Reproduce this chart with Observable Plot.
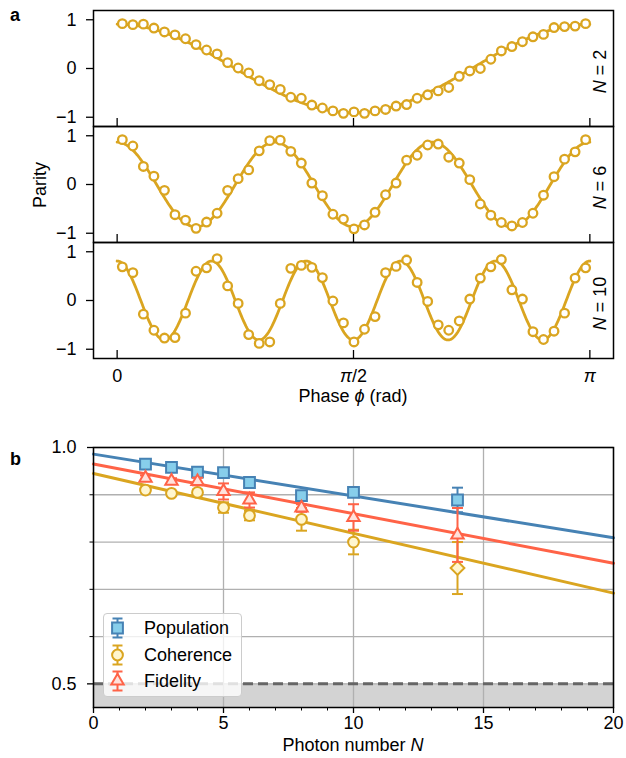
<!DOCTYPE html>
<html><head><meta charset="utf-8">
<script src="https://cdn.jsdelivr.net/npm/d3@7"></script>
<script src="https://cdn.jsdelivr.net/npm/@observablehq/plot@0.6"></script>
<style>
body{margin:0;background:#fff;}
#fig{position:relative;width:626px;height:758px;overflow:hidden;font-family:"Liberation Sans",Arial,Helvetica,sans-serif;font-size:18px;color:#000;}
#fig svg{overflow:visible;}
</style></head><body><div id="fig"></div>
<script>
// ---------------- Panel a data ----------------
const photonNumbersA = [2, 6, 10];
const fitAmplitude = [0.91, 0.87, 0.81];
const phaseStartFrac = 0.011, phaseEndFrac = 0.991, phaseCount = 45;
const parityN2 = [0.92,0.90,0.91,0.83,0.75,0.69,0.61,0.49,0.38,0.30,
  0.12,0.01,-0.09,-0.25,-0.33,-0.43,-0.59,-0.61,-0.75,-0.81,
  -0.87,-0.92,-0.89,-0.92,-0.87,-0.84,-0.77,-0.74,-0.61,-0.54,
  -0.46,-0.39,-0.16,-0.05,0.00,0.19,0.36,0.45,0.55,0.65,
  0.70,0.84,0.86,0.87,0.92];
const parityN6 = [0.92,0.79,0.37,0.17,-0.12,-0.62,-0.73,-0.90,-0.77,-0.59,
  -0.12,0.12,0.30,0.69,0.90,0.91,0.68,0.44,0.03,-0.23,
  -0.61,-0.71,-0.91,-0.83,-0.57,-0.21,0.03,0.50,0.60,0.81,
  0.83,0.56,0.44,0.10,-0.40,-0.63,-0.78,-0.85,-0.78,-0.59,
  -0.22,0.16,0.52,0.67,0.92];
const parityN10 = [0.69,0.57,-0.28,-0.61,-0.77,-0.76,-0.26,0.60,0.67,0.86,
  0.30,-0.06,-0.70,-0.88,-0.85,-0.06,0.66,0.72,0.68,0.47,
  -0.01,-0.46,-0.85,-0.59,-0.33,0.57,0.70,0.83,0.37,-0.02,
  -0.50,-0.61,-0.42,0.03,0.46,0.69,0.84,0.22,0.03,-0.64,
  -0.80,-0.63,-0.26,0.46,0.67];
const phaseTicks = [0, Math.PI/2, Math.PI];
const phaseTickLabels = ["0", "π/2", "π"];
const parityTicks = [-1, 0, 1];

// ---------------- Panel b data ----------------
const photonN = [2, 3, 4, 5, 6, 8, 10, 14];
const population    = [0.965,0.958,0.948,0.947,0.926,0.898,0.905,0.889];
const populationErr = [0.004,0.004,0.004,0.004,0.004,0.005,0.006,0.026];
const coherence     = [0.910,0.903,0.905,0.873,0.856,0.848,0.800,0.745];
const coherenceErr  = [0.005,0.005,0.006,0.011,0.010,0.024,0.026,0.055];
const fidelity      = [0.935,0.929,0.928,0.907,0.889,0.872,0.852,0.815];
const fidelityErr   = [0.006,0.006,0.008,0.017,0.016,0.008,0.028,0.057];
const fitN = [0, 20];
const populationFit = [0.986, 0.809];
const coherenceFit  = [0.945, 0.692];
const fidelityFit   = [0.965, 0.755];
const seriesNames = ["Population", "Coherence", "Fidelity"];
const threshold = 0.5;
const xDomainB = [0, 20];
const yDomainB = [0.45, 1.0];
const xMajorB = [0, 5, 10, 15, 20];
const xMinorB = [1,2,3,4,6,7,8,9,11,12,13,14,16,17,18,19];
const yMajorB = [0.5, 1.0];
const yMinorB = [0.6, 0.7, 0.8, 0.9];

// ---------------- styling ----------------
const FONT = "'Liberation Sans', Arial, Helvetica, sans-serif";
const gold = "#DAA520";
const colors = {
  Population: {stroke: "#4682B4", fill: "#87CEEB", symbol: "square", r: 6.1},
  Coherence:  {stroke: "#DAA520", fill: "#FFF6CF", symbol: "circle", r: 5.4},
  Fidelity:   {stroke: "#FF6347", fill: "#FFE2DC", symbol: "triangle", r: 4.6}
};
const capSymbol = {draw(ctx, size){ const w = Math.sqrt(size); ctx.moveTo(-w/2, 0); ctx.lineTo(w/2, 0); }};
const fig = document.getElementById("fig");
function place(el, top){ el.style.position = "absolute"; el.style.left = "0px"; el.style.top = top + "px"; fig.appendChild(el); }
function italicize(root, ch){
  root.querySelectorAll("text").forEach(t => {
    if (t.children.length === 0 && t.textContent.includes(ch)) {
      t.innerHTML = t.textContent.replace(ch, `<tspan font-style="italic">${ch}</tspan>`);
    }
  });
}

// ---------------- Panel a ----------------
const phases = d3.range(phaseCount).map(i => Math.PI * (phaseStartFrac + i * (phaseEndFrac - phaseStartFrac) / (phaseCount - 1)));
const parities = [parityN2, parityN6, parityN10];
const frameH = 116;
const frameTops = [10, 126, 242];
photonNumbersA.forEach((N, k) => {
  const last = k === photonNumbersA.length - 1;
  const pts = parities[k].map((p, i) => ({phi: phases[i], p}));
  const curve = d3.range(0, 401).map(j => { const phi = j / 400 * Math.PI; return {phi, p: fitAmplitude[k] * Math.cos(N * phi)}; });
  const mb = last ? 60 : 10;
  const plot = Plot.plot({
    width: 626, height: 10 + frameH + mb,
    marginTop: 10, marginBottom: mb, marginLeft: 93, marginRight: 13,
    style: {background: "transparent", fontFamily: FONT, fontSize: "18px", color: "black", overflow: "visible"},
    x: {domain: [-0.05 * Math.PI, 1.05 * Math.PI], axis: null},
    y: {domain: [-1.19, 1.19], axis: null},
    marks: [
      Plot.line(curve, {x: "phi", y: "p", stroke: gold, strokeWidth: 2.8}),
      Plot.dot(pts, {x: "phi", y: "p", r: 4.3, fill: "white", stroke: gold, strokeWidth: 2.3}),
      Plot.tickX(phaseTicks, {x: d => d, stroke: "black", strokeWidth: 1.3, insetTop: frameH - 8}),
      Plot.axisY(parityTicks, {tickSize: 7, tickPadding: 10, label: null, strokeWidth: 1.3, tickFormat: d => d < 0 ? "−" + Math.abs(d) : String(d)}),
      last ? Plot.axisX(phaseTicks, {tickSize: 0, tickPadding: 11, label: null, tickFormat: d => phaseTickLabels[phaseTicks.indexOf(d)]}) : null,
      Plot.text([`N = ${N}`], {text: d => d, frameAnchor: "right", rotate: -90, textAnchor: "middle", lineAnchor: "bottom", dx: -8, dy: 3, fontSize: 18}),
      Plot.frame({stroke: "black", strokeWidth: 1.5})
    ]
  });
  italicize(plot, "N");
  italicize(plot, "π");
  place(plot, frameTops[k] - 10);
});

// ---------------- Panel b ----------------
function seriesData(vals, errs){ return photonN.map((n, i) => ({N: n, v: vals[i], lo: vals[i] - errs[i], hi: vals[i] + errs[i]})); }
const seriesVals = {Population: [population, populationErr], Coherence: [coherence, coherenceErr], Fidelity: [fidelity, fidelityErr]};
const fits = {Population: populationFit, Coherence: coherenceFit, Fidelity: fidelityFit};
const fitMarks = seriesNames.map(name => Plot.line(fitN.map((n, i) => ({N: n, v: fits[name][i]})), {x: "N", y: "v", stroke: colors[name].stroke, strokeWidth: 3}));
const pointMarks = seriesNames.flatMap(name => {
  const c = colors[name];
  const data = seriesData(...seriesVals[name]);
  return [
    Plot.ruleX(data, {x: "N", y1: "lo", y2: "hi", stroke: c.stroke, strokeWidth: 2}),
    Plot.dot(data, {x: "N", y: "lo", symbol: capSymbol, r: 6.2, stroke: c.stroke, strokeWidth: 2, fill: "none"}),
    Plot.dot(data, {x: "N", y: "hi", symbol: capSymbol, r: 6.2, stroke: c.stroke, strokeWidth: 2, fill: "none"}),
    Plot.dot(data, {x: "N", y: "v", symbol: name === "Coherence" ? (d => d.N === 14 ? "diamond2" : "circle") : c.symbol,
      r: name === "Coherence" ? (d => d.N === 14 ? 6.2 : c.r) : c.r, fill: c.fill, stroke: c.stroke, strokeWidth: 2})
  ];
});
const pb = Plot.plot({
  width: 626, height: 17 + 260 + 51,
  marginTop: 17, marginBottom: 51, marginLeft: 93, marginRight: 13,
  style: {background: "transparent", fontFamily: FONT, fontSize: "18px", color: "black", overflow: "visible"},
  x: {domain: xDomainB, axis: null},
  y: {domain: yDomainB, axis: null},
  symbol: {type: "identity"},
  r: {type: "identity"},
  marks: [
    Plot.rect([threshold], {x1: () => xDomainB[0], x2: () => xDomainB[1], y1: () => yDomainB[0], y2: d => d, fill: "#d3d3d3"}),
    Plot.ruleX(xMajorB, {stroke: "#b0b0b0", strokeWidth: 1.3}),
    Plot.ruleY([...yMinorB, ...yMajorB], {stroke: "#b0b0b0", strokeWidth: 1.3}),
    Plot.ruleY([threshold], {stroke: "#666666", strokeWidth: 3, strokeDasharray: "10,5"}),
    ...fitMarks,
    ...pointMarks,
    Plot.axisX(xMajorB, {tickSize: 6, tickPadding: 3, label: null, strokeWidth: 1.3}),
    Plot.axisX(xMinorB, {tickSize: 3.5, tickFormat: () => "", label: null, strokeWidth: 1}),
    Plot.axisY(yMajorB, {tickSize: 6, tickPadding: 11, label: null, tickFormat: d3.format(".1f"), strokeWidth: 1.3}),
    Plot.axisY(yMinorB, {tickSize: 3.5, tickFormat: () => "", label: null, strokeWidth: 1}),
    Plot.frame({stroke: "black", strokeWidth: 1.5})
  ]
});
place(pb, 430);

// ---------------- Legend (panel b) ----------------
const legend = document.createElement("div");
legend.style.cssText = "position:absolute;left:103px;top:613px;width:139px;height:84px;background:rgba(255,255,255,0.8);border:1px solid #cccccc;border-radius:4px;box-sizing:border-box;";
seriesNames.forEach((name, i) => {
  const c = colors[name];
  const cy = 14 + i * 26.5;
  const sym = d3.symbol(d3[{square: "symbolSquare", circle: "symbolCircle", triangle: "symbolTriangle"}[c.symbol]], Math.PI * c.r * c.r)();
  const g = document.createElement("div");
  g.style.cssText = `position:absolute;left:0;top:${cy - 13}px;width:138px;height:26px;`;
  g.innerHTML = `<svg width="30" height="26" style="position:absolute;left:0;top:0">
    <g transform="translate(13.5,13)" stroke="${c.stroke}" stroke-width="2">
      <line x1="0" x2="0" y1="-9.5" y2="9.5"/>
      <line x1="-5" x2="5" y1="-9.5" y2="-9.5"/>
      <line x1="-5" x2="5" y1="9.5" y2="9.5"/>
      <path d="${sym}" fill="${c.fill}"/>
    </g></svg>
    <span style="position:absolute;left:40px;top:0;line-height:26px;font-size:18px;">${name}</span>`;
  legend.appendChild(g);
});
fig.appendChild(legend);

// ---------------- Labels ----------------
const ns = "http://www.w3.org/2000/svg";
const overlay = document.createElementNS(ns, "svg");
overlay.setAttribute("width", 626); overlay.setAttribute("height", 758);
overlay.style.cssText = "position:absolute;left:0;top:0;pointer-events:none;";
overlay.innerHTML = `
  <g font-family="${FONT}" font-size="18" fill="black">
    <text x="10" y="21" font-weight="bold">a</text>
    <text x="10" y="465" font-weight="bold">b</text>
    <text transform="translate(46,185) rotate(-90)" text-anchor="middle">Parity</text>
    <text x="353" y="402" text-anchor="middle">Phase <tspan font-style="italic">ϕ</tspan> (rad)</text>
    <text x="353" y="751" text-anchor="middle">Photon number <tspan font-style="italic">N</tspan></text>
  </g>`;
fig.appendChild(overlay);
</script>
</body></html>
